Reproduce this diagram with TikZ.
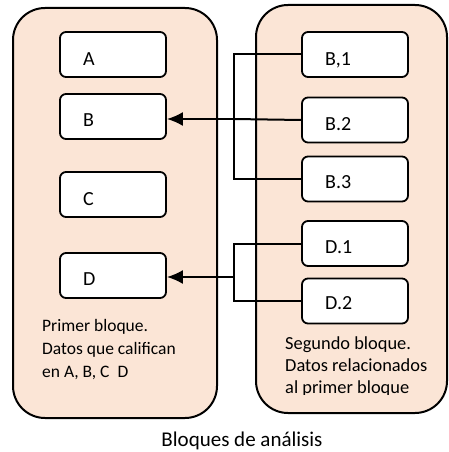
\documentclass[tikz,border=0pt]{standalone}
\usepackage{fontspec}
\setmainfont{Carlito}
\usetikzlibrary{arrows.meta}
\definecolor{peach}{HTML}{FBE5D6}
\begin{document}
\begin{tikzpicture}[x=1pt,y=-1pt,
  bigbox/.style={draw=black, line width=2pt, fill=peach, rounded corners=32pt},
  smallbox/.style={draw=black, line width=1.8pt, fill=white, rounded corners=6pt, minimum width=106pt, minimum height=45pt, inner sep=0pt},
  lbl/.style={font=\fontsize{20}{24}\selectfont, anchor=base west, inner sep=0pt},
  wire/.style={draw=black, line width=2pt},
  para/.style={align=left, anchor=north west, inner sep=0pt}
]
\useasboundingbox (0,0) rectangle (449,452);
% big blocks
\path[bigbox] (13,8) rectangle (217,418);
\path[bigbox] (256,5) rectangle (447,413);
% left boxes
\node[smallbox] (A) at (113,54.5) {};
\node[lbl] at (83,65) {A};
\node[smallbox] (B) at (113,116.5) {};
\node[lbl] at (83,126) {B};
\node[smallbox] (C) at (113,194.5) {};
\node[lbl] at (83,205) {C};
\node[smallbox] (D) at (113,275.5) {};
\node[lbl] at (83,285) {D};
% right boxes
\node[smallbox] (B1) at (355,54.5) {};
\node[lbl] at (325,65) {B,1};
\node[smallbox] (B2) at (355,120) {};
\node[lbl] at (325,130) {B.2};
\node[smallbox] (B3) at (355,179) {};
\node[lbl] at (325,188) {B.3};
\node[smallbox] (D1) at (355,243.5) {};
\node[lbl] at (325,253) {D.1};
\node[smallbox] (D2) at (355,301) {};
\node[lbl] at (325,309) {D.2};
% connectors
\coordinate (jb) at (234,119);
\coordinate (jd) at (234,277);
\draw[wire] (B1.west) -| (jb) |- (B3.west);
\draw[wire] (B2.west) -- (jb);
\draw[wire, -{Latex[length=16pt,width=14pt]}] (jb) -- (B.east |- jb);
\draw[wire] (D1.west) -| (jd) |- (D2.west);
\draw[wire, -{Latex[length=16pt,width=14pt]}] (jd) -- (D.east |- jd);
% texts
\node[para, font=\fontsize{17.5}{23}\selectfont] (t1) at (42,319) {Primer bloque.\\Datos que califican\\en A, B, C\ \ D};
\begin{scope}
\clip (260,320) rectangle (440,394);
\node[para, font=\fontsize{18.4}{22}\selectfont] (t2) at (285,337) {Segundo bloque.\\Datos relacionados\\al primer bloque};
\end{scope}
\node[font=\fontsize{21}{24}\selectfont] (cap) at (242,441) {Bloques de análisis};
\end{tikzpicture}
\end{document}
